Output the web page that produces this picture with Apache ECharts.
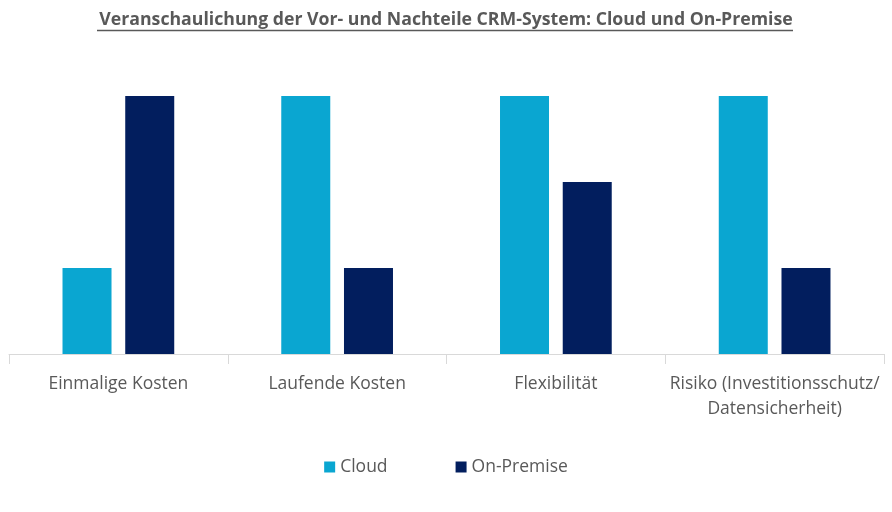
<!DOCTYPE html>
<html>
<head>
<meta charset="utf-8">
<script src="https://cdn.jsdelivr.net/npm/echarts@6/dist/echarts.min.js"></script>
<style>
  html, body { margin: 0; padding: 0; background: #fff; }
  #chart { width: 892px; height: 512px; }
</style>
</head>
<body>
<div id="chart"></div>
<script>
const categories = ['Einmalige Kosten', 'Laufende Kosten', 'Flexibilität', 'Risiko (Investitionsschutz/\nDatensicherheit)'];
const cloudValues = [1, 3, 3, 3];
const onPremiseValues = [3, 1, 2, 1];

const chart = echarts.init(document.getElementById('chart'));
const textColor = '#595959';
const fontFamily = '"Open Sans", "Noto Sans", sans-serif';

const option = {
  animation: false,
  title: {
    text: 'Veranschaulichung der Vor- und Nachteile CRM-System: Cloud und On-Premise',
    left: 'center',
    top: 6,
    textStyle: { fontFamily: fontFamily, fontSize: 17.7, fontWeight: 'bold', color: textColor }
  },
  // underline of the title
  graphic: [{
    type: 'line',
    shape: { x1: 97, y1: 30.5, x2: 793, y2: 30.5 },
    style: { stroke: textColor, lineWidth: 1.5 }
  }],
  legend: {
    bottom: 31,
    left: 'center',
    itemWidth: 11,
    itemHeight: 11,
    itemGap: 68,
    icon: 'rect',
    textStyle: { fontFamily: fontFamily, fontSize: 17.5, color: textColor },
    data: ['Cloud', 'On-Premise']
  },
  grid: { left: 9, right: 8, top: 96, bottom: 158 },
  xAxis: {
    type: 'category',
    data: categories,
    axisLine: { lineStyle: { color: '#d9d9d9', width: 1 } },
    axisTick: { show: true, length: 10, lineStyle: { color: '#d9d9d9' } },
    axisLabel: {
      interval: 0,
      margin: 18,
      lineHeight: 25,
      fontFamily: fontFamily,
      fontSize: 17.5,
      color: textColor
    }
  },
  yAxis: {
    type: 'value',
    show: false,
    min: 0,
    max: 3
  },
  series: [
    {
      name: 'Cloud',
      type: 'bar',
      data: cloudValues,
      barWidth: 49,
      barGap: '28%',
      itemStyle: { color: '#0AA6D1' }
    },
    {
      name: 'On-Premise',
      type: 'bar',
      data: onPremiseValues,
      barWidth: 49,
      barGap: '28%',
      itemStyle: { color: '#021E5E' }
    }
  ]
};

chart.setOption(option);
</script>
</body>
</html>
